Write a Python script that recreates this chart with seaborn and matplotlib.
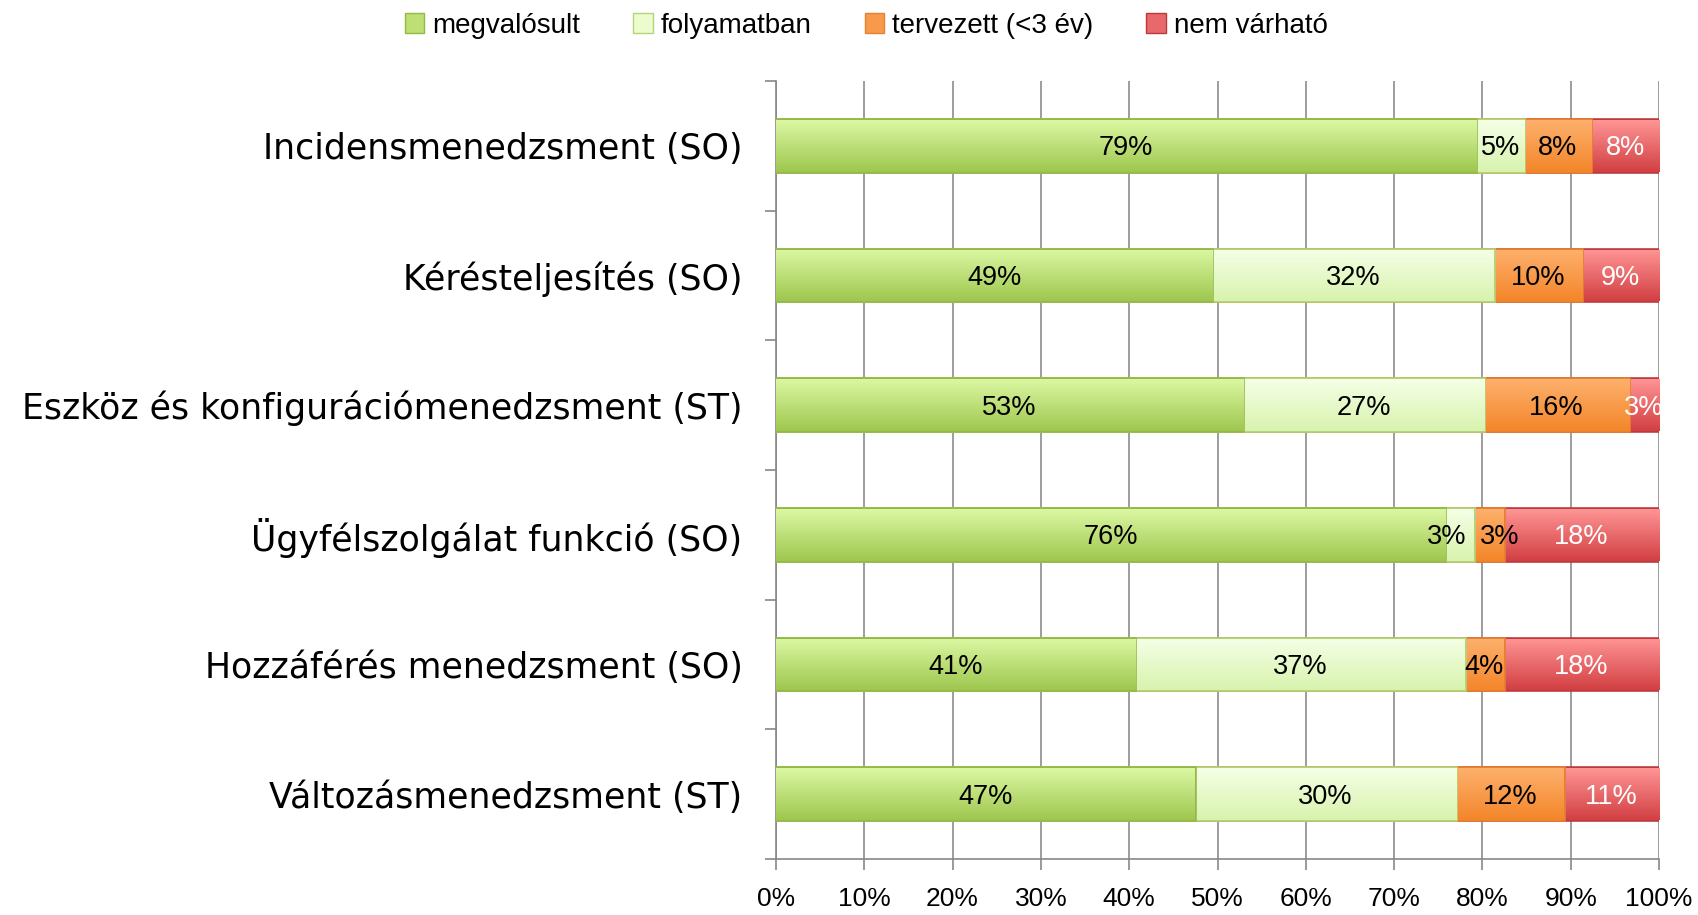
import matplotlib
matplotlib.use("Agg")
import matplotlib.pyplot as plt
from matplotlib.patches import Patch
from matplotlib.colors import LinearSegmentedColormap
import numpy as np
import seaborn as sns
import pandas as pd

# data (percent of respondents)
categories = ["Incidensmenedzsment (SO)", "Kérésteljesítés (SO)",
              "Eszköz és konfigurációmenedzsment (ST)", "Ügyfélszolgálat funkció (SO)",
              "Hozzáférés menedzsment (SO)", "Változásmenedzsment (ST)"]
series = ["megvalósult", "folyamatban", "tervezett (<3 év)", "nem várható"]
megvalosult = [79.3, 49.4, 52.9, 75.8, 40.7, 47.4]
folyamatban = [5.4, 31.9, 27.3, 3.2, 37.3, 29.6]
tervezett = [7.6, 10.0, 16.4, 3.4, 4.4, 12.2]
nem_varhato = [7.7, 8.7, 3.4, 17.6, 17.6, 10.8]
xticks = [0, 10, 20, 30, 40, 50, 60, 70, 80, 90, 100]

fills = ["#bddf74", "#ecfccd", "#f99a4a", "#e8696b"]
tops = ["#dbf7a2", "#f5ffe6", "#fdb06c", "#ff9494"]
bottoms = ["#9fc74f", "#d8f3ae", "#f4862a", "#d24043"]
edges = ["#93ba48", "#b4d47a", "#e48132", "#bc3a3c"]
txtcol = ["#000000", "#000000", "#000000", "#ffffff"]

sns.set_style("white")
plt.rcParams["font.family"] = ["DejaVu Sans"]
narrow = ["Liberation Sans", "DejaVu Sans"]

df = pd.DataFrame({"cat": categories, series[0]: megvalosult, series[1]: folyamatban,
                   series[2]: tervezett, series[3]: nem_varhato})
cum = df[series].cumsum(axis=1)

fig = plt.figure(figsize=(16.99, 9.15), dpi=100)
ax = fig.add_axes([0.4567, 0.0612, 0.5198, 0.8503])

# draw cumulative totals from back to front -> stacked bars, with a vertical gradient
grad = np.linspace(0, 1, 64).reshape(-1, 1)
for k, i in enumerate(range(3, -1, -1)):
    n0 = len(ax.patches)
    sns.barplot(x=cum[series[i]], y=df["cat"], color=fills[i], edgecolor=edges[i],
                linewidth=2.6, width=0.4, saturation=1, ax=ax)
    cmap = LinearSegmentedColormap.from_list(f"g{i}", [tops[i], bottoms[i]])
    for p in ax.patches[n0:]:
        z = 3 + 2 * k
        p.set_zorder(z)
        x0, y0 = p.get_x(), p.get_y()
        im = ax.imshow(grad, cmap=cmap, aspect="auto", zorder=z + 0.5,
                       extent=(x0, x0 + p.get_width(), y0 + p.get_height(), y0))
        im.set_clip_path(p)

for j in range(len(categories)):
    vals = [df[s][j] for s in series]
    for i, s in enumerate(series):
        v = vals[i]
        xc = cum[s][j] - v / 2
        # nudge labels of two neighbouring thin segments apart
        if v < 4 and i < 3 and vals[i + 1] < 4:
            xc -= 1.4
        elif v < 4 and i > 0 and vals[i - 1] < 4:
            xc += 1.2
        ax.text(xc, j + 0.02, f"{v:.0f}%", ha="center", va="center",
                fontsize=19.5, color=txtcol[i], family=narrow, zorder=30)

ax.set_xlim(0, 100)
ax.set_ylim(5.5, -0.5)
ax.set_xticks(xticks)
ax.set_xticklabels([f"{t}%" for t in xticks], family=narrow, fontsize=19, color="black")
ax.set_yticks(range(len(categories)))
ax.set_yticklabels(categories, fontsize=25, color="black")
ax.tick_params(axis="y", which="major", left=False, length=0, pad=24)
ax.tick_params(axis="x", bottom=True, length=8, width=1.2, color="#888888", pad=12)
# tick marks on the category axis sit between the categories
ax.set_yticks([k - 0.5 for k in range(len(categories) + 1)], minor=True)
ax.tick_params(axis="y", which="minor", left=True, length=8, width=1.2, color="#888888")
ax.set_xlabel("")
ax.set_ylabel("")
ax.grid(axis="x", color="#8c8c8c", linewidth=1.2, zorder=0)
ax.set_axisbelow(True)
for sp in ["top", "right"]:
    ax.spines[sp].set_visible(False)
for sp in ["left", "bottom"]:
    ax.spines[sp].set_color("#888888")
    ax.spines[sp].set_linewidth(1.2)

handles = [Patch(facecolor=fills[i], edgecolor=edges[i], label=series[i]) for i in range(4)]
leg = fig.legend(handles=handles, loc="center", bbox_to_anchor=(0.51, 0.972), ncol=4,
                 frameon=False, prop={"family": narrow, "size": 20}, handlelength=0.7,
                 handleheight=0.7, handletextpad=0.3, columnspacing=1.9)
for t in leg.get_texts():
    t.set_color("black")

fig.savefig("out.png", dpi=100)
